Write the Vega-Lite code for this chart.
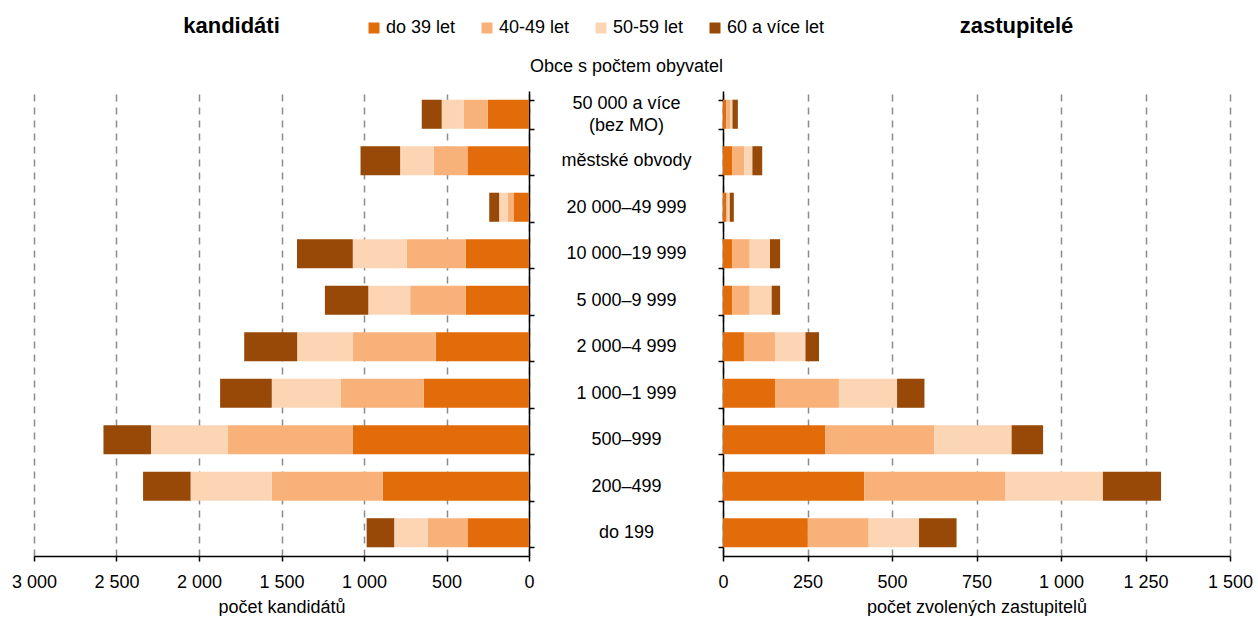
{
  "$schema": "https://vega.github.io/schema/vega-lite/v6.json",
  "padding": {"left": 11, "top": 15, "right": 0, "bottom": 0},
  "background": "white",
  "config": {
    "font": "Liberation Sans",
    "view": {"stroke": null},
    "axis": {"labelFontSize": 18, "labelColor": "black", "titleColor": "black", "domainColor": "black", "tickColor": "black", "titleFontWeight": "normal", "titleFontSize": 18, "domainWidth": 1.5, "tickWidth": 1.5}
  },
  "data": {"values": [
    {"kat": "50 000 a více (bez MO)", "vek": "do 39 let", "ord": 1, "kandidati": 250, "zastupitele": 10},
    {"kat": "50 000 a více (bez MO)", "vek": "40-49 let", "ord": 2, "kandidati": 146, "zastupitele": 12},
    {"kat": "50 000 a více (bez MO)", "vek": "50-59 let", "ord": 3, "kandidati": 133, "zastupitele": 6},
    {"kat": "50 000 a více (bez MO)", "vek": "60 a více let", "ord": 4, "kandidati": 121, "zastupitele": 16},
    {"kat": "městské obvody", "vek": "do 39 let", "ord": 1, "kandidati": 373, "zastupitele": 27},
    {"kat": "městské obvody", "vek": "40-49 let", "ord": 2, "kandidati": 204, "zastupitele": 36},
    {"kat": "městské obvody", "vek": "50-59 let", "ord": 3, "kandidati": 204, "zastupitele": 24},
    {"kat": "městské obvody", "vek": "60 a více let", "ord": 4, "kandidati": 240, "zastupitele": 29},
    {"kat": "20 000–49 999", "vek": "do 39 let", "ord": 1, "kandidati": 94, "zastupitele": 9},
    {"kat": "20 000–49 999", "vek": "40-49 let", "ord": 2, "kandidati": 35, "zastupitele": 5},
    {"kat": "20 000–49 999", "vek": "50-59 let", "ord": 3, "kandidati": 52, "zastupitele": 6},
    {"kat": "20 000–49 999", "vek": "60 a více let", "ord": 4, "kandidati": 60, "zastupitele": 12},
    {"kat": "10 000–19 999", "vek": "do 39 let", "ord": 1, "kandidati": 384, "zastupitele": 27},
    {"kat": "10 000–19 999", "vek": "40-49 let", "ord": 2, "kandidati": 357, "zastupitele": 52},
    {"kat": "10 000–19 999", "vek": "50-59 let", "ord": 3, "kandidati": 327, "zastupitele": 60},
    {"kat": "10 000–19 999", "vek": "60 a více let", "ord": 4, "kandidati": 338, "zastupitele": 30},
    {"kat": "5 000–9 999", "vek": "do 39 let", "ord": 1, "kandidati": 384, "zastupitele": 27},
    {"kat": "5 000–9 999", "vek": "40-49 let", "ord": 2, "kandidati": 336, "zastupitele": 52},
    {"kat": "5 000–9 999", "vek": "50-59 let", "ord": 3, "kandidati": 254, "zastupitele": 65},
    {"kat": "5 000–9 999", "vek": "60 a více let", "ord": 4, "kandidati": 263, "zastupitele": 25},
    {"kat": "2 000–4 999", "vek": "do 39 let", "ord": 1, "kandidati": 565, "zastupitele": 62},
    {"kat": "2 000–4 999", "vek": "40-49 let", "ord": 2, "kandidati": 502, "zastupitele": 92},
    {"kat": "2 000–4 999", "vek": "50-59 let", "ord": 3, "kandidati": 338, "zastupitele": 90},
    {"kat": "2 000–4 999", "vek": "60 a více let", "ord": 4, "kandidati": 321, "zastupitele": 40},
    {"kat": "1 000–1 999", "vek": "do 39 let", "ord": 1, "kandidati": 638, "zastupitele": 154},
    {"kat": "1 000–1 999", "vek": "40-49 let", "ord": 2, "kandidati": 502, "zastupitele": 189},
    {"kat": "1 000–1 999", "vek": "50-59 let", "ord": 3, "kandidati": 419, "zastupitele": 172},
    {"kat": "1 000–1 999", "vek": "60 a více let", "ord": 4, "kandidati": 313, "zastupitele": 81},
    {"kat": "500–999", "vek": "do 39 let", "ord": 1, "kandidati": 1067, "zastupitele": 303},
    {"kat": "500–999", "vek": "40-49 let", "ord": 2, "kandidati": 757, "zastupitele": 322},
    {"kat": "500–999", "vek": "50-59 let", "ord": 3, "kandidati": 467, "zastupitele": 229},
    {"kat": "500–999", "vek": "60 a více let", "ord": 4, "kandidati": 288, "zastupitele": 93},
    {"kat": "200–499", "vek": "do 39 let", "ord": 1, "kandidati": 886, "zastupitele": 418},
    {"kat": "200–499", "vek": "40-49 let", "ord": 2, "kandidati": 673, "zastupitele": 418},
    {"kat": "200–499", "vek": "50-59 let", "ord": 3, "kandidati": 492, "zastupitele": 288},
    {"kat": "200–499", "vek": "60 a více let", "ord": 4, "kandidati": 288, "zastupitele": 172},
    {"kat": "do 199", "vek": "do 39 let", "ord": 1, "kandidati": 373, "zastupitele": 251},
    {"kat": "do 199", "vek": "40-49 let", "ord": 2, "kandidati": 240, "zastupitele": 180},
    {"kat": "do 199", "vek": "50-59 let", "ord": 3, "kandidati": 204, "zastupitele": 149},
    {"kat": "do 199", "vek": "60 a více let", "ord": 4, "kandidati": 167, "zastupitele": 111}
  ]},
  "bounds": "flush",
  "spacing": 194,
  "resolve": {"scale": {"x": "independent", "y": "independent", "color": "shared"}},
  "hconcat": [
    {
      "width": 495,
      "height": 465,
      "title": {"text": "kandidáti", "fontSize": 22, "fontWeight": "bold", "dx": -50, "offset": 53, "color": "black"},
      "mark": {"type": "bar"},
      "encoding": {
        "y": {
          "field": "kat", "type": "nominal",
          "sort": ["50 000 a více (bez MO)", "městské obvody", "20 000–49 999", "10 000–19 999", "5 000–9 999", "2 000–4 999", "1 000–1 999", "500–999", "200–499", "do 199"],
          "scale": {"paddingInner": 0.375, "paddingOuter": 0.1875},
          "axis": {"orient": "right", "labels": false, "title": null, "tickBand": "extent", "tickSize": 5, "grid": false}
        },
        "x": {
          "field": "kandidati", "type": "quantitative", "stack": "zero",
          "scale": {"domain": [0, 3000], "reverse": true, "nice": false},
          "axis": {"values": [0, 500, 1000, 1500, 2000, 2500, 3000], "labelExpr": "replace(format(datum.value, ','), ',', ' ')", "labelFlush": false, "labelOverlap": false, "grid": true, "gridDash": [7, 6], "gridColor": "#8c8c8c", "gridWidth": 1.5, "tickSize": 5, "labelPadding": 12, "titlePadding": 7, "title": "počet kandidátů"}
        },
        "color": {
          "field": "vek", "type": "nominal",
          "scale": {"domain": ["do 39 let", "40-49 let", "50-59 let", "60 a více let"], "range": ["#E36C0A", "#F8B279", "#FCD5B5", "#984807"]},
          "legend": {"orient": "none", "legendX": 331, "legendY": -72, "direction": "horizontal", "title": null, "symbolType": "square", "symbolSize": 121, "symbolStrokeWidth": 0, "labelFontSize": 18, "labelOffset": 3, "columnPadding": 22, "labelColor": "black", "padding": 0}
        },
        "order": {"field": "ord", "type": "quantitative"}
      }
    },
    {
      "width": 507,
      "height": 465,
      "title": {"text": "zastupitelé", "fontSize": 22, "fontWeight": "bold", "dx": 40, "offset": 19, "color": "black"},
      "mark": {"type": "bar"},
      "encoding": {
        "y": {
          "field": "kat", "type": "nominal",
          "sort": ["50 000 a více (bez MO)", "městské obvody", "20 000–49 999", "10 000–19 999", "5 000–9 999", "2 000–4 999", "1 000–1 999", "500–999", "200–499", "do 199"],
          "scale": {"paddingInner": 0.375, "paddingOuter": 0.1875},
          "axis": {"orient": "left", "tickBand": "extent", "tickSize": 5, "grid": false, "labelExpr": "datum.value == '50 000 a více (bez MO)' ? ['50 000 a více', '(bez MO)'] : datum.label", "labelOffset": {"condition": {"test": "datum.value == '50 000 a více (bez MO)'", "value": -11}, "value": 0}, "labelAlign": "center", "labelBaseline": "middle", "labelPadding": 92, "labelLimit": 0, "labelLineHeight": 22, "title": "Obce s počtem obyvatel", "titleAngle": 0, "titleX": -97, "titleY": -25, "titleAlign": "center", "titleBaseline": "middle"}
        },
        "x": {
          "field": "zastupitele", "type": "quantitative", "stack": "zero",
          "scale": {"domain": [0, 1500], "nice": false},
          "axis": {"values": [0, 250, 500, 750, 1000, 1250, 1500], "labelExpr": "replace(format(datum.value, ','), ',', ' ')", "labelFlush": false, "labelOverlap": false, "grid": true, "gridDash": [7, 6], "gridColor": "#8c8c8c", "gridWidth": 1.5, "tickSize": 5, "labelPadding": 12, "titlePadding": 7, "title": "počet zvolených zastupitelů"}
        },
        "color": {
          "field": "vek", "type": "nominal",
          "scale": {"domain": ["do 39 let", "40-49 let", "50-59 let", "60 a více let"], "range": ["#E36C0A", "#F8B279", "#FCD5B5", "#984807"]},
          "legend": {"orient": "none", "legendX": 331, "legendY": -72, "direction": "horizontal", "title": null, "symbolType": "square", "symbolSize": 121, "symbolStrokeWidth": 0, "labelFontSize": 18, "labelOffset": 3, "columnPadding": 22, "labelColor": "black", "padding": 0}
        },
        "order": {"field": "ord", "type": "quantitative"}
      }
    }
  ]
}
